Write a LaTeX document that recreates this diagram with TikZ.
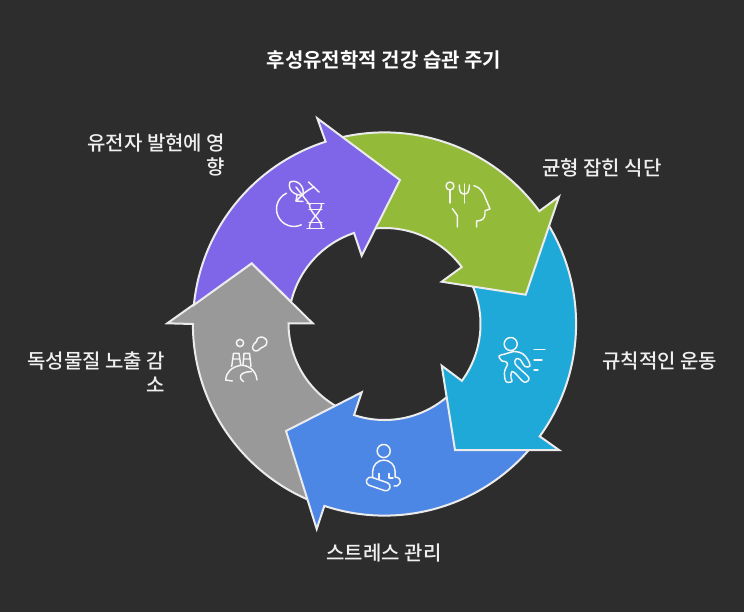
\documentclass[tikz,border=0pt]{standalone}
\usepackage{fontspec}
\setmainfont{Noto Sans CJK KR}
\newfontfamily\krb{Noto Sans CJK KR Bold}
\newfontfamily\krm{Noto Sans CJK KR Medium}
\definecolor{bgc}{HTML}{2D2D2D}
\definecolor{cpurple}{HTML}{7F65E8}
\definecolor{cgreen}{HTML}{94BA39}
\definecolor{ccyan}{HTML}{1FA9D9}
\definecolor{cblue}{HTML}{4D87E6}
\definecolor{cgray}{HTML}{999999}
\definecolor{txt}{HTML}{F0F0F0}
\tikzset{
  seg/.style={draw=white!92!black,line width=1.5pt,line join=miter,miter limit=10},
  icon/.style={draw=white!96!black,line width=1.1pt,line cap=round,line join=round},
  lab/.style={text=txt,font=\krm\fontsize{15}{20}\selectfont,inner sep=0pt},
  ttl/.style={text=white,font=\krb\fontsize{15}{20}\selectfont,inner sep=0pt}
}
\begin{document}
\begin{tikzpicture}[x=0.75pt,y=0.75pt]
\useasboundingbox (0,0) rectangle (744,-612);
\fill[bgc] (0,0) rectangle (744,-612);
\coordinate (C) at (384.5,-324);
\def\Ro{143.7pt}
\def\Ri{72pt}
% gray
\draw[seg,fill=cgray] (251.7,-263.3) -- (312.7,-323.3) -- (288.5,-323.3)
  arc[start angle=180,end angle=241,radius=\Ri]
  -- ([shift={(C)}]248:191.6)
  arc[start angle=248,end angle=180,radius=\Ro]
  -- (167.3,-323.3) -- cycle;
% blue
\draw[seg,fill=cblue] (286,-431) -- (361.7,-392.3) -- ([shift={(C)}]251.5:96)
  arc[start angle=251.5,end angle=312,radius=\Ri]
  -- ([shift={(C)}]321:191.6)
  arc[start angle=321,end angle=251.7,radius=\Ro]
  -- (316.7,-529) -- cycle;
% cyan
\draw[seg,fill=ccyan] (455,-450) -- (441.7,-365.7) -- ([shift={(C)}]-36.3:96)
  arc[start angle=-36.3,end angle=25,radius=\Ri]
  -- ([shift={(C)}]33:191.6)
  arc[start angle=33,end angle=-35.9,radius=\Ro]
  -- (559,-450) -- cycle;
% green
\draw[seg,fill=cgreen] (525.7,-294.7) -- (441.7,-281.7) -- ([shift={(C)}]36.4:96)
  arc[start angle=36.4,end angle=97,radius=\Ri]
  -- ([shift={(C)}]103:191.6)
  arc[start angle=103,end angle=36.1,radius=\Ro]
  -- (559,-196.7) -- cycle;
% purple
\draw[seg,fill=cpurple] (400,-180) -- (361.7,-255.7) -- ([shift={(C)}]108.5:96)
  arc[start angle=108.5,end angle=166.6,radius=\Ri]
  -- (251.7,-263.3) -- ([shift={(C)}]174.3:191.6)
  arc[start angle=174.3,end angle=107.9,radius=\Ro]
  -- (317.3,-118.3) -- cycle;
% DNA icon
\draw[icon] ([shift={(294,-209)}]115:17.5) arc[start angle=115,end angle=295,radius=13.1pt];
\draw[icon] (290,-182) .. controls (297,-179) and (305,-186) .. (303,-195)
  .. controls (295,-196) and (287,-190) .. cycle;
\draw[icon] (296,-187) -- (310,-205);
\draw[icon] (296,-201) .. controls (303,-194) and (307,-190) .. (314,-187);
\draw[icon] (308.5,-182) -- (319,-192);
\draw[icon] (296,-201) -- (303,-201.5) (296,-201) -- (297,-195);
\draw[icon] (309.5,-203.5) .. controls (308,-212) and (323,-220) .. (321.5,-228.5);
\draw[icon] (321.5,-203.5) .. controls (323,-212) and (308,-220) .. (309.5,-228.5);
\draw[icon] (307,-203.5) -- (324,-203.5) (309,-209.5) -- (322,-209.5)
  (309,-222.5) -- (322,-222.5) (307,-228.5) -- (324,-228.5);
% food icon
\draw[icon] (450,-186) circle[radius=3pt];
\draw[icon] (450,-190) -- (450,-203);
\draw[icon] (464.3,-184) -- (464.3,-203);
\draw[icon] (459.3,-185) .. controls (459.3,-192) and (461,-194) .. (464.3,-194)
  .. controls (467.6,-194) and (469.3,-192) .. (469.3,-185);
\draw[icon] (452.3,-208.5) -- (457.3,-215.5) -- (457.3,-227);
\draw[icon] (474,-185.7) .. controls (480,-187) and (484,-193) .. (485,-197)
  -- (490,-209) -- (485,-210.7) -- (485,-214)
  .. controls (485,-219) and (481,-221) .. (476.7,-221) -- (476.7,-227);
% runner icon
\draw[icon] (510.7,-344) circle[radius=4.9pt];
\draw[icon] (534,-349.7) -- (545,-349.7) (534,-360) -- (542,-360) (534,-370) -- (538,-370);
\draw[icon] plot[smooth cycle,tension=0.6] coordinates {
 (499,-356) (505,-354) (515,-351.5) (523,-354) (528,-360) (530,-366)
 (525,-366.5) (520,-359.5) (516,-359) (515,-363.5) (519.5,-368.5) (529,-378)
 (524,-382) (515,-373) (511.5,-372) (511,-378) (512,-381.5) (506,-381.5) (504.5,-372)
 (507.5,-364) (505,-361.5) (502,-361)};
% meditator icon
\draw[icon] (383.7,-451) circle[radius=4.9pt];
\draw[icon] (372.7,-477) -- (372.7,-471.3) arc[start angle=180,end angle=0,radius=8.4pt] -- (395.1,-477);
\draw[icon,rounded corners=3pt,rotate around={-19:(378.3,-484)}] (366,-488.2) rectangle (390.5,-479.8);
\draw[icon] (379,-473.5) -- (379,-479);
\draw[icon] (389,-473.5) -- (389,-478) -- (393,-478);
\draw[icon] (395.1,-477) .. controls (399,-477) and (401,-480) .. (400,-483)
  .. controls (399,-486) and (396,-486.5) .. (394,-486);
% factory icon
\draw[icon] (240,-343) circle[radius=2.7pt];
\draw[icon] plot[smooth cycle,tension=0.6] coordinates {
 (252.5,-347) (254,-344) (256.5,-341.5) (257.5,-338.5) (262,-337) (266.5,-340)
 (266,-345) (261,-348) (258,-350.5) (254,-350.5)};
\draw[icon] (231.7,-366.5) -- (233.5,-353.3) -- (239,-353.3) -- (240.7,-365)
  (243,-365) -- (244,-353.3) -- (249.5,-353.3) -- (251,-366.5)
  (232.5,-359) -- (240,-359) (243.5,-359) -- (250.5,-359);
\draw[icon] (225.7,-380) .. controls (226,-372) and (232,-367) .. (240,-365.5)
  .. controls (248,-364.5) and (256,-370) .. (257,-380);
\draw[icon] (225.7,-380) -- (232.5,-381);
\draw[icon] (243.5,-381.5) .. controls (238,-378) and (239,-372) .. (251.5,-371.5);
% texts
\node[ttl] (title) at (384,-60) {후성유전학적 건강 습관 주기};
\node[lab,anchor=east] (a1) at (225.5,-143) {유전자 발현에 영};
\node[lab,anchor=east] (a2) at (225.5,-167) {향};
\node[lab,anchor=west] (b) at (542,-168) {균형 잡힌 식단};
\node[lab,anchor=west] (c) at (602,-361) {규칙적인 운동};
\node[lab] (d) at (384,-553) {스트레스 관리};
\node[lab,anchor=east] (e1) at (165.5,-361) {독성물질 노출 감};
\node[lab,anchor=east] (e2) at (165.5,-385) {소};
\end{tikzpicture}
\end{document}
